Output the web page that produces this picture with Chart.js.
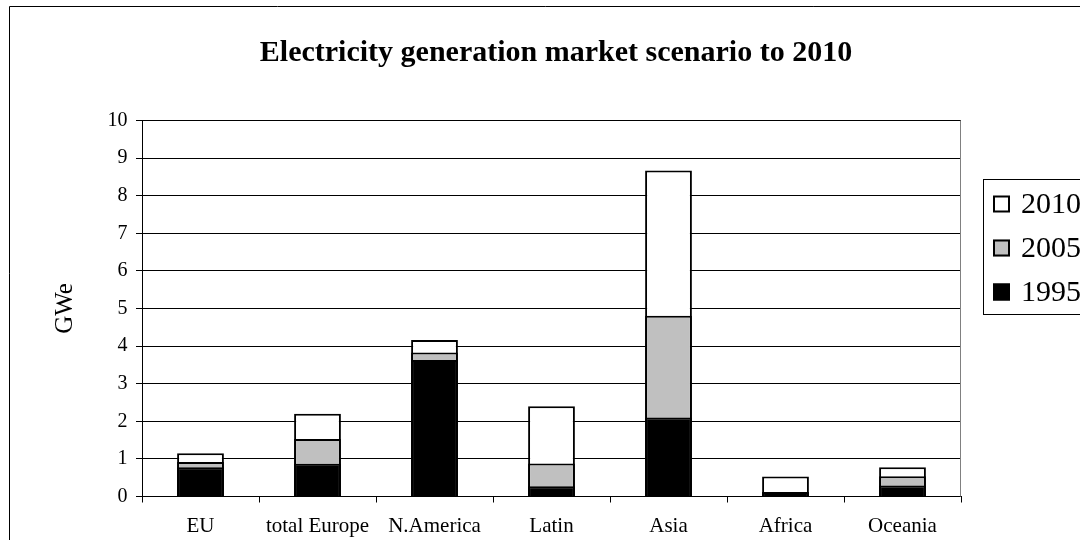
<!DOCTYPE html>
<html><head><meta charset="utf-8">
<script src="https://cdn.jsdelivr.net/npm/chart.js@4/dist/chart.umd.min.js"></script>
<style>html,body{margin:0;padding:0;background:#fff;overflow:hidden}#wrap{width:1080px;height:540px;position:relative}</style>
</head><body><div id="wrap"><canvas id="c" width="1080" height="540"></canvas></div>
<script>
const categories = ['EU', 'total Europe', 'N.America', 'Latin', 'Asia', 'Africa', 'Oceania'];
const seriesNames = ['1995', '2005', '2010'];
const values1995 = [0.78, 0.87, 3.63, 0.27, 2.10, 0.12, 0.29];
const values2005 = [0.92, 1.53, 3.83, 0.88, 4.81, 0.12, 0.54];
const values2010 = [1.15, 2.20, 4.16, 2.40, 8.67, 0.53, 0.78];
const yMin = 0, yMax = 10, yStep = 1;
const titleText = 'Electricity generation market scenario to 2010';
const yAxisTitle = 'GWe';
const seriesColors = ['#000000', '#C0C0C0', '#FFFFFF'];

const SERIF = '"Liberation Serif", "Times New Roman", serif';

const decor = {
  id: 'decor',
  beforeDraw(chart) {
    const ctx = chart.ctx;
    ctx.save(); ctx.fillStyle = '#fff'; ctx.fillRect(0, 0, chart.width, chart.height); ctx.restore();
  },
  afterDraw(chart) {
    const ctx = chart.ctx, a = chart.chartArea;
    ctx.save();
    ctx.strokeStyle = '#000'; ctx.lineWidth = 1;
    ctx.beginPath(); ctx.moveTo(9.5, 545); ctx.lineTo(9.5, 6.5); ctx.lineTo(1085, 6.5); ctx.stroke();
    ctx.strokeStyle = '#808080';
    const rx = Math.round(a.right) - 0.5;
    ctx.beginPath(); ctx.moveTo(rx, a.top); ctx.lineTo(rx, a.bottom); ctx.stroke();
    ctx.fillStyle = '#000';
    ctx.font = 'bold 30px ' + SERIF; ctx.textAlign = 'center'; ctx.textBaseline = 'alphabetic';
    ctx.fillText(titleText, 556, 61);
    // legend
    ctx.strokeStyle = '#000'; ctx.lineWidth = 1;
    ctx.strokeRect(983.5, 179.5, 200, 135);
    const ds = chart.data.datasets.slice().reverse();
    const rows = [204, 248, 292];
    ctx.font = '30px ' + SERIF; ctx.textAlign = 'left'; ctx.textBaseline = 'middle';
    ds.forEach((d, i) => {
      const y = rows[i];
      ctx.fillStyle = d.backgroundColor;
      ctx.fillRect(993, y - 8.5, 17, 17);
      ctx.lineWidth = 2; ctx.strokeStyle = '#000';
      ctx.strokeRect(994, y - 7.5, 15, 15);
      ctx.fillStyle = '#000';
      ctx.fillText(d.label, 1021, y + 1);
    });
    ctx.restore();
  }
};

const seriesValues = [values1995, values2005, values2010];
new Chart(document.getElementById('c'), {
  type: 'bar',
  data: {
    labels: categories,
    datasets: seriesNames.map((n, i) => ({
      label: n,
      data: seriesValues[i],
      backgroundColor: seriesColors[i],
      borderColor: '#000',
      borderWidth: 2,
      borderSkipped: 'start',
      categoryPercentage: 0.4,
      barPercentage: 1.0
    }))
  },
  options: {
    responsive: false,
    animation: false,
    devicePixelRatio: 1,
    layout: { padding: { left: 0, right: 119, top: 120.5, bottom: 0 } },
    plugins: { legend: { display: false }, title: { display: false }, tooltip: { enabled: false } },
    scales: {
      x: {
        stacked: true,
        afterFit(s) { s.height = 43.5; },
        grid: { offset: true, drawOnChartArea: false, drawTicks: true, tickLength: 6, color: '#000', lineWidth: 1 },
        border: { color: '#000', width: 1 },
        ticks: { color: '#000', padding: 11, maxRotation: 0, autoSkip: false, font: { family: SERIF, size: 21 } }
      },
      y: {
        stacked: false,
        min: yMin, max: yMax,
        afterFit(s) { s.width = 142; },
        grid: { color: '#000', lineWidth: 1, tickLength: 6 },
        border: { color: '#000', width: 1 },
        ticks: { stepSize: yStep, color: '#000', padding: 8.5, font: { family: SERIF, size: 20 } },
        title: { display: true, text: yAxisTitle, color: '#000', font: { family: SERIF, size: 25 }, padding: { top: 50.5, bottom: 0 } }
      }
    }
  },
  plugins: [decor]
});
</script></body></html>
